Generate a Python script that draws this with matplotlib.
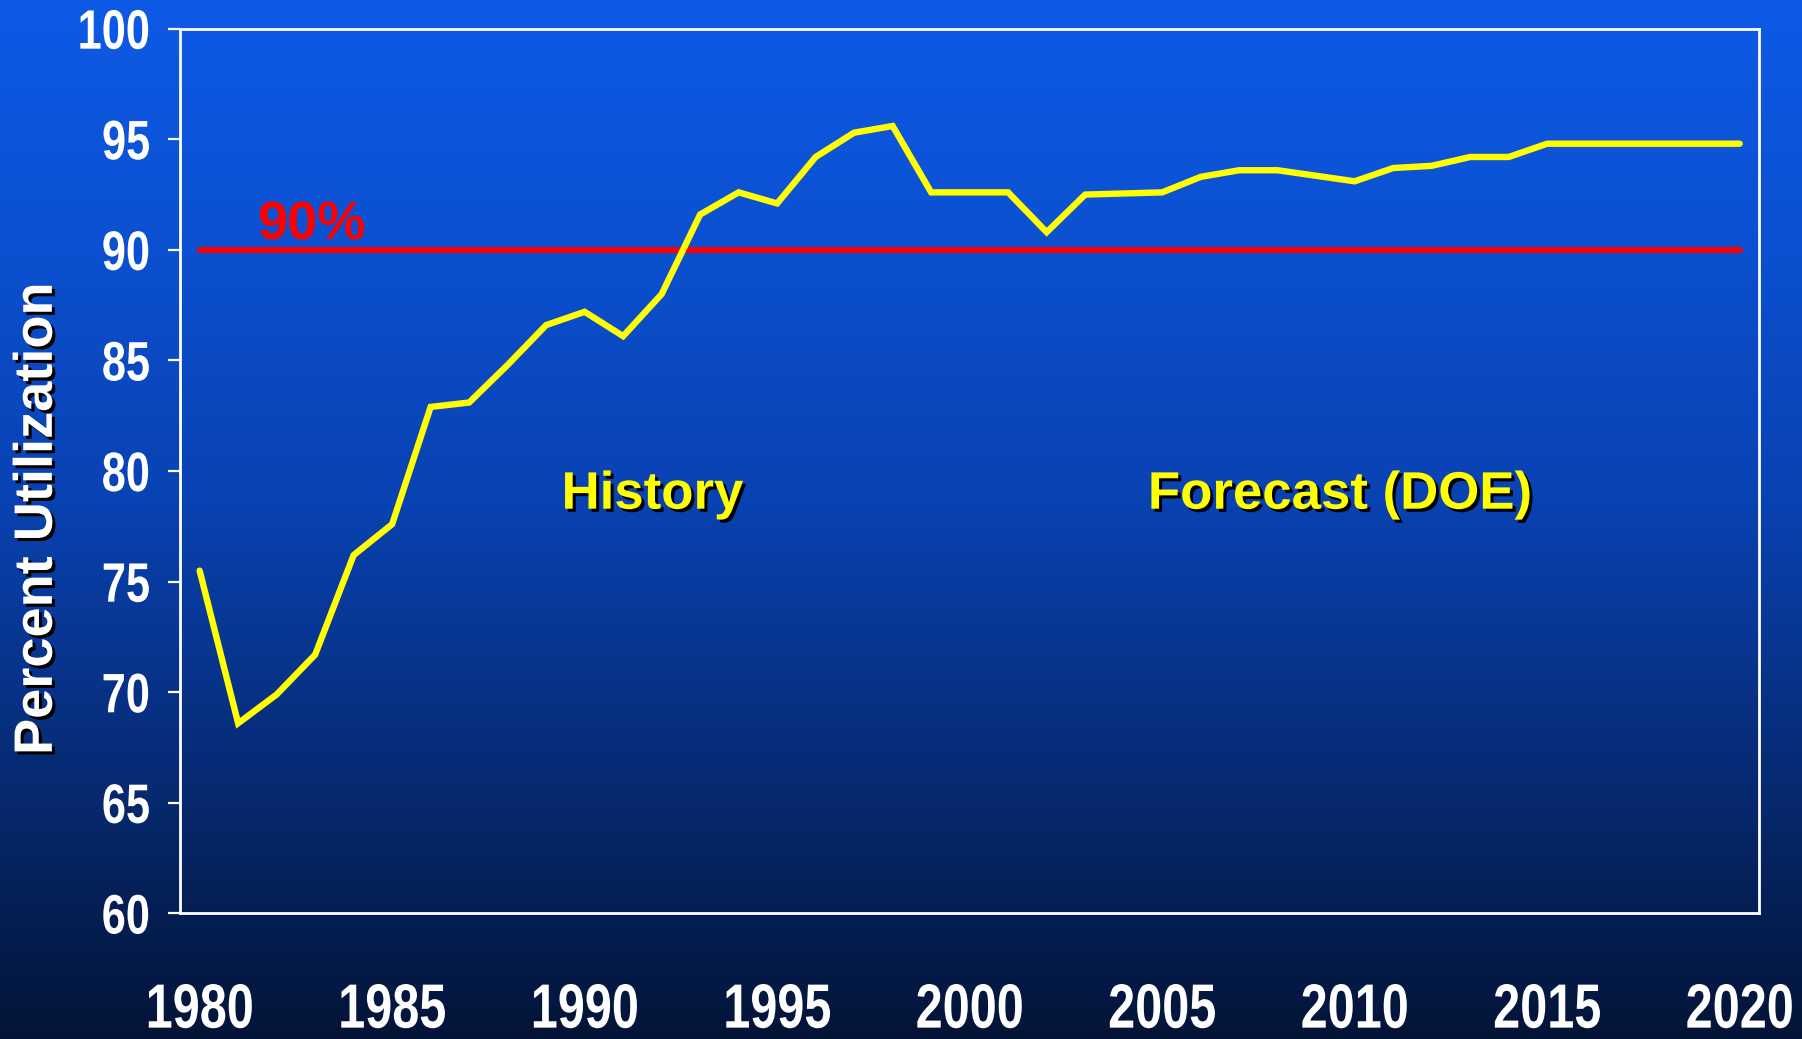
import numpy as np
import matplotlib
matplotlib.use("Agg")
import matplotlib.pyplot as plt
import matplotlib.patheffects as pe
from matplotlib.colors import LinearSegmentedColormap
from matplotlib.transforms import Affine2D

# Refinery capacity utilization, history and DOE forecast
years = list(range(1980, 2021))
utilization = [
    75.5, 68.6, 69.9, 71.7, 76.2, 77.6, 82.9, 83.1, 84.8, 86.6,
    87.2, 86.1, 88.0, 91.6, 92.6, 92.1, 94.2, 95.3, 95.6, 92.6,
    92.6, 92.6, 90.8, 92.5, 92.55, 92.6, 93.3, 93.6, 93.6, 93.35,
    93.1, 93.7, 93.8, 94.2, 94.2, 94.8, 94.8, 94.8, 94.8, 94.8,
    94.8,
]
threshold = 90
threshold_label = "90%"
y_ticks = [60, 65, 70, 75, 80, 85, 90, 95, 100]
x_ticks = [1980, 1985, 1990, 1995, 2000, 2005, 2010, 2015, 2020]
y_label = "Percent Utilization"
region_labels = ["History", "Forecast (DOE)"]

bold_sans = ["Liberation Sans", "DejaVu Sans"]


class Reshape(pe.AbstractPathEffect):
    """Scale glyph outlines about an anchor to mimic a narrow, tall face."""

    def __init__(self, sx=1.0, sy=1.0, hanchor="center", vanchor="top"):
        super().__init__()
        self.sx = sx
        self.sy = sy
        self.hanchor = hanchor
        self.vanchor = vanchor

    def draw_path(self, renderer, gc, tpath, affine, rgbFace=None):
        ext = affine.transform_path(tpath).get_extents()
        cx = {"left": ext.x0, "right": ext.x1}.get(self.hanchor, 0.5 * (ext.x0 + ext.x1))
        cy = {"bottom": ext.y0, "top": ext.y1}.get(self.vanchor, 0.5 * (ext.y0 + ext.y1))
        warp = (Affine2D().translate(-cx, -cy)
                .scale(self.sx, self.sy).translate(cx, cy))
        renderer.draw_path(gc, tpath, affine + warp, rgbFace)


fig = plt.figure(figsize=(18.02, 10.39), dpi=100)

# Vertical blue gradient backdrop
bg = fig.add_axes([0, 0, 1, 1], zorder=-10)
stops = [
    (0.00, (3 / 255, 20 / 255, 55 / 255)),
    (0.28, (7 / 255, 45 / 255, 122 / 255)),
    (0.52, (9 / 255, 66 / 255, 178 / 255)),
    (0.76, (11 / 255, 80 / 255, 208 / 255)),
    (1.00, (14 / 255, 90 / 255, 230 / 255)),
]
cmap = LinearSegmentedColormap.from_list("bluegrad", stops)
grad = np.linspace(0, 1, 512).reshape(-1, 1)
bg.imshow(grad, aspect="auto", cmap=cmap, origin="lower", extent=[0, 1, 0, 1])
bg.set_axis_off()

ax = fig.add_axes([0.1001, 0.1208, 0.8760, 0.8516])
ax.set_facecolor("none")

ax.plot([years[0], years[-1]], [threshold, threshold], color="#ff0000",
        lw=4.3, solid_capstyle="round", zorder=3)
ax.plot(years, utilization, color="#ffff00", lw=4.6,
        solid_capstyle="round", solid_joinstyle="miter", zorder=4)

ax.set_xlim(1979.5, 2020.5)
ax.set_ylim(60, 100)
ax.set_xticks(x_ticks)
ax.set_yticks(y_ticks)
ax.set_xticklabels([str(t) for t in x_ticks])
ax.set_yticklabels([str(t) for t in y_ticks])

for s in ax.spines.values():
    s.set_color("white")
    s.set_linewidth(2.0)

ax.tick_params(axis="x", length=0, pad=50, colors="white")
ax.tick_params(axis="y", length=8.6, width=1.6, pad=13, colors="white")
for lab in ax.get_xticklabels():
    lab.set_fontfamily(bold_sans)
    lab.set_fontweight("bold")
    lab.set_fontsize(35)
    lab.set_path_effects([Reshape(1.0, 45 / 35, "center", "top")])
for lab in ax.get_yticklabels():
    lab.set_fontfamily(bold_sans)
    lab.set_fontweight("bold")
    lab.set_fontsize(40)
    lab.set_path_effects([Reshape(0.78, 1.0, "right", "center")])

shadow = [pe.SimplePatchShadow(offset=(2.2, -2.2), shadow_rgbFace="black", alpha=1.0),
          pe.Normal()]

ax.text(1981.49, 90.46, threshold_label, color="#ff0000", fontsize=39,
        fontweight="bold", family=bold_sans, ha="left", va="baseline", zorder=5)

ax.text(1989.4, 78.3, region_labels[0], color="#ffff00", fontsize=38,
        fontweight="bold", family=bold_sans, ha="left", va="baseline",
        path_effects=shadow, zorder=5)
ax.text(2004.63, 78.3, region_labels[1], color="#ffff00", fontsize=38,
        fontweight="bold", family=bold_sans, ha="left", va="baseline",
        path_effects=shadow, zorder=5)

fig.text(0.021, 0.5005, y_label, rotation=90, color="white", fontsize=39,
         fontweight="bold", family=bold_sans, ha="center", va="center",
         path_effects=shadow)

fig.savefig("out.png", dpi=100)
